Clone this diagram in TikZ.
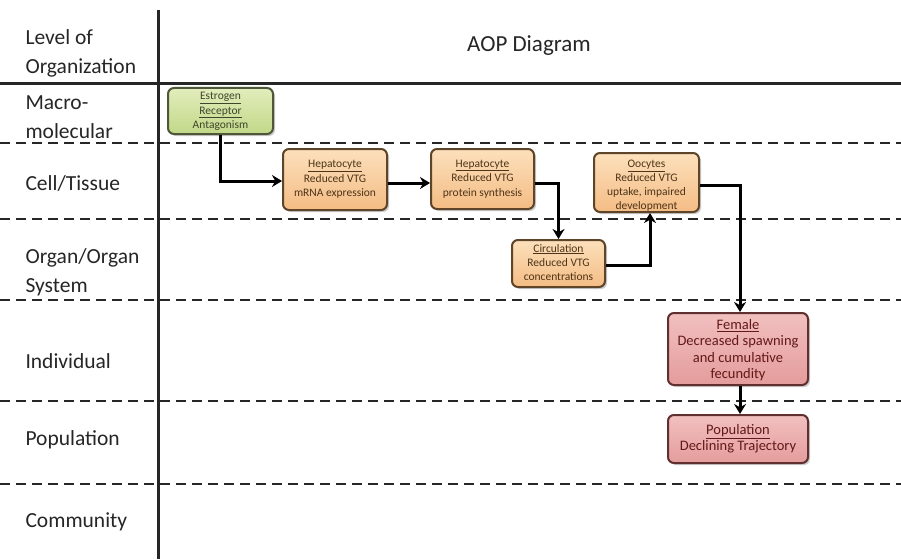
\documentclass[tikz,border=0pt]{standalone}
\usepackage{fontspec}
\setmainfont{Carlito}
\usetikzlibrary{shadows,arrows.meta}
\definecolor{gfill}{HTML}{C2D888}
\definecolor{gtop}{HTML}{E2EDBC}
\definecolor{gline}{HTML}{4E5838}
\definecolor{ofill}{HTML}{F4BC84}
\definecolor{otop}{HTML}{FCE0BC}
\definecolor{oline}{HTML}{5E4428}
\definecolor{otext}{HTML}{4E3418}
\definecolor{pfill}{HTML}{E49C9C}
\definecolor{ptop}{HTML}{F2C0C0}
\definecolor{pline}{HTML}{603030}
\definecolor{ptext}{HTML}{641818}
\tikzset{
  lvl/.style={anchor=west, align=left, font=\fontsize{21.5}{29}\selectfont, text=black!85},
  sep/.style={line width=2.8pt, dash pattern=on 10pt off 6pt, black!85},
  box/.style={rounded corners=6pt, line width=2pt, align=center, inner sep=1pt,
    drop shadow={shadow xshift=2pt, shadow yshift=-2pt, opacity=0.4}},
  gbox/.style={box, draw=gline, top color=gtop, bottom color=gfill},
  obox/.style={box, draw=oline, top color=otop, bottom color=ofill, text=otext,
    font=\fontsize{11.5}{14.5}\selectfont},
  pbox/.style={box, draw=pline, top color=ptop, bottom color=pfill, text=ptext,
    font=\fontsize{14.5}{16}\selectfont},
  gtxt/.style={anchor=north, align=center, inner sep=0pt, text=gline!80!black,
    font=\fontsize{11.5}{14.5}\selectfont},
  otxt/.style={anchor=north, align=center, inner sep=0pt, text=otext,
    font=\fontsize{11.5}{14}\selectfont},
  ptxt/.style={anchor=north, align=center, inner sep=0pt, text=ptext,
    font=\fontsize{14.5}{16.5}\selectfont},
  conn/.style={line width=3pt, -{Stealth[length=10pt,width=12pt]}}
}
\begin{document}
\begin{tikzpicture}[x=1pt,y=-1pt]
\useasboundingbox (0,0) rectangle (901,559);
\fill[white] (0,0) rectangle (901,559);
% grid
\draw[line width=3pt, black!85] (158,10) -- (158,559);
\draw[line width=3pt, black!85] (0,84) -- (901,84);
\foreach \yy in {143,219,300,401,484} \draw[sep] (0,\yy) -- (901,\yy);
% level labels
\node[lvl] (l0) at (22,53) {Level of\\Organization};
\node[lvl] (l1) at (22,117) {Macro-\\molecular};
\node[lvl] (l2) at (22,183) {Cell/Tissue};
\node[lvl] (l3) at (22,272) {Organ/Organ\\System};
\node[lvl] (l4) at (22,361) {Individual};
\node[lvl] (l5) at (22,440) {Population};
\node[lvl] (l6) at (22,522) {Community};
\node[font=\fontsize{23}{26}\selectfont, text=black!85] (title) at (529,46) {AOP Diagram};
% boxes
\node[gbox, minimum width=105pt, minimum height=46pt] (er) at (220.5,111) {};
\node[gtxt] (ert) at ([yshift=-5pt]er.north)
  {\underline{Estrogen}\\\underline{Receptor}\\Antagonism};
\node[obox, minimum width=104pt, minimum height=61pt] (h1) at (335,179.5)
  {\underline{Hepatocyte}\\Reduced VTG\\mRNA expression};
\node[obox, minimum width=103pt, minimum height=60pt] (h2) at (482.5,179)
  {\underline{Hepatocyte}\\Reduced VTG\\protein synthesis};
\node[obox, minimum width=105pt, minimum height=59pt] (oo) at (646.5,182.5) {};
\node[otxt] (oot) at ([yshift=-8pt]oo.north)
  {\underline{Oocytes}\\Reduced VTG\\uptake, impaired\\development};
\node[obox, minimum width=93pt, minimum height=47pt] (ci) at (558.5,263.5) {};
\node[otxt] (cit) at ([yshift=-5pt]ci.north)
  {\underline{Circulation}\\Reduced VTG\\concentrations};
\node[pbox, minimum width=140pt, minimum height=72pt] (fe) at (738,349) {};
\node[ptxt] (fet) at ([yshift=-7pt]fe.north)
  {\underline{Female}\\Decreased spawning\\and cumulative\\fecundity};
\node[pbox, minimum width=140pt, minimum height=48pt] (po) at (738,439)
  {\underline{Population}\\Declining Trajectory};
% connectors
\draw[conn] (er.south) |- (h1.west |- 0,181);
\draw[conn] (h1.east |- 0,183) -- (h2.west |- 0,183);
\draw[conn] (h2.east |- 0,183) -| (ci.north);
\draw[conn] (ci.east |- 0,265) -| (oo.south -| 650,0);
\draw[conn] (oo.east |- 0,185) -| (fe.north -| 740,0);
\draw[conn] (fe.south -| 740,0) -- (po.north -| 740,0);
\end{tikzpicture}
\end{document}
